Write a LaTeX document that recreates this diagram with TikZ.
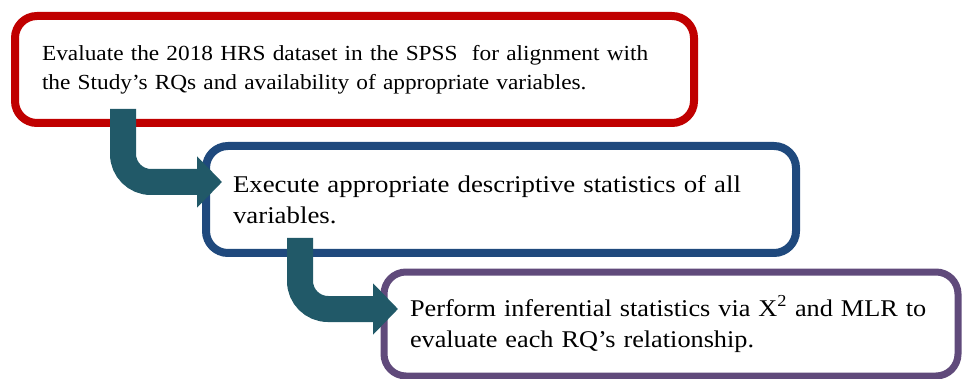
\documentclass[tikz,border=0pt]{standalone}
\usepackage{fontspec}
\setmainfont{Liberation Serif}
\newfontfamily\evalfont[FakeStretch=1.085]{Liberation Serif}
\newfontfamily\descfont[FakeStretch=1.118]{Liberation Serif}
\newfontfamily\inferfont[FakeStretch=1.094]{Liberation Serif}
\usetikzlibrary{arrows.meta, calc, shadows}
\definecolor{stepred}{HTML}{C00000}
\definecolor{stepblue}{HTML}{1F497D}
\definecolor{steppurple}{HTML}{604A7B}
\definecolor{flowteal}{HTML}{215968}

\begin{document}
\begin{tikzpicture}[x=1pt, y=-1pt,
  stepbox/.style={draw, fill=white, rounded corners=22pt, align=left,
    anchor=north west, outer sep=0pt, inner xsep=27pt, inner ysep=0pt,
    drop shadow={shadow xshift=2pt, shadow yshift=-3pt, opacity=0.25}},
  flow/.style={draw=flowteal, line width=26pt, rounded corners=28pt,
    -{Triangle[width=50pt, length=25pt]}}]
\useasboundingbox (0,0) rectangle (963,379);
% Three stages of the analysis
\node[stepbox, draw=stepred, line width=8pt, minimum width=679pt, minimum height=107pt,
  text width=625pt, font=\evalfont\fontsize{21.5}{29}\selectfont] (evaluate) at (15,16)
  {Evaluate the 2018 HRS dataset in the SPSS\ \ for alignment with\\
   the Study’s RQs and availability of appropriate variables.};
\node[stepbox, draw=stepblue, line width=8pt, minimum width=590pt, minimum height=107pt,
  text width=536pt, font=\descfont\fontsize{24}{30.5}\selectfont] (describe) at (206,146)
  {Execute appropriate descriptive statistics of all\\ variables.};
\node[stepbox, draw=steppurple, line width=7pt, minimum width=574pt, minimum height=104pt,
  text width=522pt, inner xsep=26pt, font=\inferfont\fontsize{24}{31}\selectfont] (infer) at (384,272)
  {Perform inferential statistics via X\textsuperscript{2} and MLR to\\
   evaluate each RQ’s relationship.};
% Bent arrows from one stage to the next
\draw[flow] ($(evaluate.south west)+(108,-14)$) |- ($(describe.west)+(16,-17.5)$);
\draw[flow] ($(describe.south west)+(94,-15)$) |- ($(infer.west)+(14,-15)$);
\end{tikzpicture}
\end{document}
